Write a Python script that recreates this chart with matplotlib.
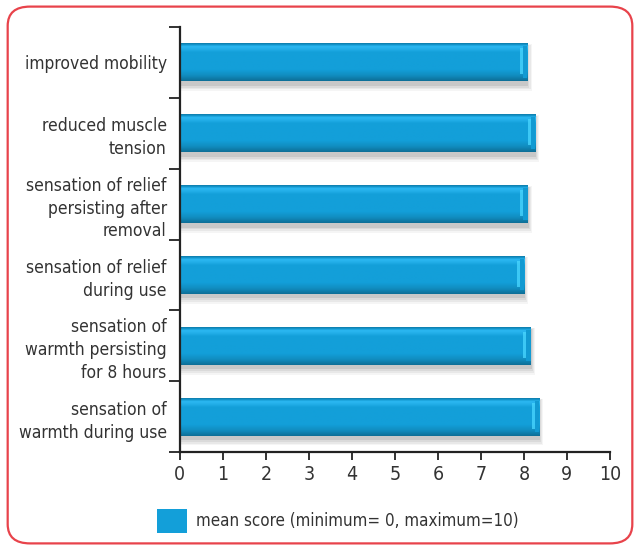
import numpy as np
import matplotlib
matplotlib.use("Agg")
import matplotlib.pyplot as plt
from matplotlib.patches import FancyBboxPatch, Rectangle
from matplotlib.colors import to_rgb

plt.rcParams['font.family'] = ['DejaVu Sans']
plt.rcParams['font.stretch'] = 'condensed'

categories = [
    "improved mobility",
    "reduced muscle\ntension",
    "sensation of relief\npersisting after\nremoval",
    "sensation of relief\nduring use",
    "sensation of\nwarmth persisting\nfor 8 hours",
    "sensation of\nwarmth during use",
]
scores = [8.08, 8.26, 8.09, 8.0, 8.16, 8.35]
x_ticks = list(range(0, 11))
legend_label = "mean score (minimum= 0, maximum=10)"

bar_color = "#139fd9"
text_color = "#333333"

fig = plt.figure(figsize=(6.4, 5.5), dpi=100)

# rounded red frame around the whole graphic
frame = FancyBboxPatch((0.012, 0.012), 0.976, 0.976,
                       boxstyle="round,pad=0,rounding_size=0.035",
                       transform=fig.transFigure, facecolor="white",
                       edgecolor="#e8434b", linewidth=1.6, zorder=-5)
fig.patches.append(frame)

ax = fig.add_axes([0.281, 0.178, 0.672, 0.773], zorder=2)
ax.set_facecolor("none")

n = len(categories)
ypos = np.arange(n)
h = 0.535

base = np.array(to_rgb(bar_color))


def clip(c):
    return np.clip(c, 0, 1)


# vertical shading profile of a bevelled bar (top -> bottom)
keys_t = [0.0, 0.04, 0.08, 0.14, 0.24, 0.70, 0.86, 1.0]
keys_c = [base * 0.80, base * 0.95, clip(base + 0.10), clip(base + 0.07),
          base, base, base * 0.88, base * 0.70]
rows = 60
t = np.linspace(0, 1, rows)
prof = np.stack([np.interp(t, keys_t, [c[i] for c in keys_c]) for i in range(3)], axis=1)
img = prof.reshape(rows, 1, 3)

for y, v in zip(ypos, scores):
    # soft drop shadow
    for k, a in enumerate([0.04, 0.05, 0.06, 0.08]):
        pad = 0.09 * (4 - k) / 4
        ax.add_patch(Rectangle((0, y - h / 2 - pad * 0.3 + 0.04), v + pad * 1.1,
                               h + pad * 1.4, facecolor="black", alpha=a,
                               edgecolor="none", zorder=1))
    ax.imshow(img, extent=(0, v, y + h / 2, y - h / 2), aspect="auto",
              interpolation="bilinear", zorder=2)
    # lighter bevel strip near the right end
    ax.add_patch(Rectangle((v - 0.17, y - h / 2 + 0.07), 0.07, h - 0.17,
                           facecolor=clip(base + 0.22), alpha=0.75,
                           edgecolor="none", zorder=3))
    ax.add_patch(Rectangle((v - 0.10, y - h / 2 + 0.04), 0.10, h - 0.09,
                           facecolor=base * 0.97, edgecolor="none", zorder=3))

ax.set_xlim(0, 10)
ax.set_ylim(n - 0.5, -0.5)

ax.set_xticks(x_ticks)
ax.set_xticklabels([str(v) for v in x_ticks])
ax.set_yticks(np.arange(-0.5, n, 1.0))
ax.set_yticklabels([])
ax.set_yticks(ypos, minor=True)
ax.set_yticklabels(categories, minor=True, ha="right", fontsize=12.5,
                   color=text_color, linespacing=1.35)

ax.tick_params(axis="y", which="major", length=8, width=1.3, color="#222222", direction="out")
ax.tick_params(axis="y", which="minor", length=0, pad=9.5)
ax.tick_params(axis="x", length=6, width=1.3, color="#222222", labelsize=14,
               labelcolor=text_color, pad=3)

for s in ["top", "right"]:
    ax.spines[s].set_visible(False)
for s in ["left", "bottom"]:
    ax.spines[s].set_linewidth(1.6)
    ax.spines[s].set_color("#222222")

# legend
fig.patches.append(Rectangle((157 / 640, 1 - 533 / 550), 30 / 640, 24 / 550,
                             transform=fig.transFigure, facecolor=bar_color,
                             edgecolor="none"))
fig.text(196 / 640, 1 - 521 / 550, legend_label, fontsize=12.2, color=text_color,
         va="center", ha="left")

fig.savefig("out.png", dpi=100)
